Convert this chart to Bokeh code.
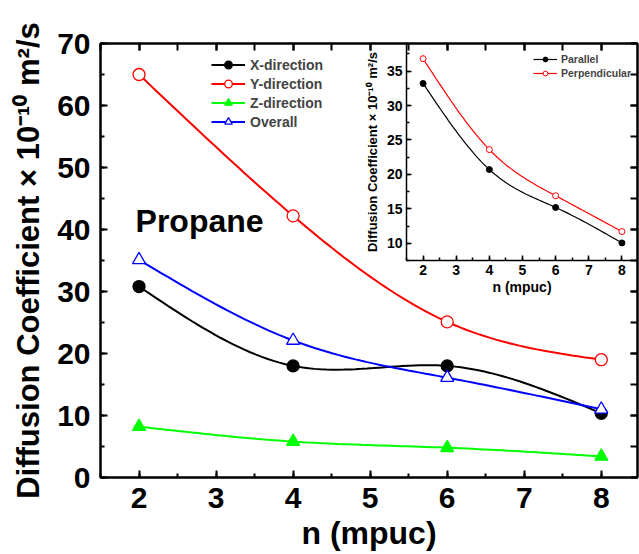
import numpy as np
from bokeh.plotting import figure
from bokeh.models import (Legend, LegendItem, Label, LinearAxis, SingleIntervalTicker,
                          CustomJSTickFormatter)
from bokeh.layouts import column
from bokeh.embed import file_html
from bokeh.resources import INLINE

# ---- main chart data ----
n_mpuc = [2, 4, 6, 8]
x_direction = [30.8, 18.0, 18.0, 10.35]
y_direction = [65.0, 42.2, 25.1, 19.0]
z_direction = [8.2, 5.8, 4.8, 3.4]
overall = [35.1, 22.1, 16.1, 11.0]

# ---- inset data ----
inset_n = [2, 4, 6, 8]
parallel = [33.2, 20.7, 15.2, 10.05]
perpendicular = [36.8, 23.6, 16.9, 11.7]

FONT = "Liberation Sans"


def spline(xs, ys, num=80):
    xs = np.asarray(xs, float)
    ys = np.asarray(ys, float)
    n = len(xs)
    h = np.diff(xs)
    A = np.zeros((n, n))
    b = np.zeros(n)
    A[0, 0] = 1
    A[-1, -1] = 1
    for i in range(1, n - 1):
        A[i, i - 1] = h[i - 1]
        A[i, i] = 2 * (h[i - 1] + h[i])
        A[i, i + 1] = h[i]
        b[i] = 6 * ((ys[i + 1] - ys[i]) / h[i] - (ys[i] - ys[i - 1]) / h[i - 1])
    M = np.linalg.solve(A, b)
    xx = np.linspace(xs[0], xs[-1], num)
    idx = np.clip(np.searchsorted(xs, xx, side="right") - 1, 0, n - 2)
    x0 = xs[idx]
    x1 = xs[idx + 1]
    hh = x1 - x0
    t0 = xx - x0
    t1 = x1 - xx
    yy = (M[idx] * t1 ** 3 / (6 * hh) + M[idx + 1] * t0 ** 3 / (6 * hh)
          + (ys[idx] / hh - M[idx] * hh / 6) * t1
          + (ys[idx + 1] / hh - M[idx + 1] * hh / 6) * t0)
    return xx, yy


def style_axis(ax, fs, lw, tin, tmin, standoff, show_labels=True):
    ax.axis_line_width = lw
    ax.axis_line_color = "black"
    ax.major_tick_line_width = lw
    ax.minor_tick_line_width = lw
    ax.major_tick_in = tin
    ax.major_tick_out = 0
    ax.minor_tick_in = tmin
    ax.minor_tick_out = 0
    ax.major_label_text_font = FONT
    ax.major_label_text_font_style = "bold"
    ax.major_label_text_color = "black"
    ax.axis_label_text_font = FONT
    ax.axis_label_text_font_style = "bold"
    ax.axis_label_text_color = "black"
    if show_labels:
        ax.major_label_text_font_size = fs
        ax.major_label_standoff = standoff
    else:
        ax.formatter = CustomJSTickFormatter(code="return ''")
        ax.major_label_text_font_size = "1px"
        ax.major_label_standoff = 0


# ================= main figure =================
p = figure(width=639, height=554, x_range=(1.5, 8.47), y_range=(0, 70),
           output_backend="svg", toolbar_location=None,
           min_border_left=100, min_border_right=2, min_border_top=43,
           min_border_bottom=77)
p.xgrid.visible = False
p.ygrid.visible = False
p.outline_line_color = "black"
p.outline_line_width = 2

p.xaxis.ticker = SingleIntervalTicker(interval=1, num_minor_ticks=2)
p.yaxis.ticker = SingleIntervalTicker(interval=10, num_minor_ticks=2)
style_axis(p.xaxis[0], "30px", 2, 7, 4, 10)
style_axis(p.yaxis[0], "30px", 2, 7, 4, 10)
p.xaxis.axis_label = "n (mpuc)"
p.xaxis.axis_label_text_font_size = "32px"
p.xaxis.axis_label_standoff = 4
p.yaxis.axis_label = "Diffusion Coefficient × 10⁻¹⁰ m²/s"
p.yaxis.axis_label_text_font_size = "31px"
p.yaxis.axis_label_standoff = 8

top_ax = LinearAxis(ticker=SingleIntervalTicker(interval=1, num_minor_ticks=2))
style_axis(top_ax, "30px", 2, 7, 7, 0, show_labels=False)
p.add_layout(top_ax, "above")
right_ax = LinearAxis(ticker=SingleIntervalTicker(interval=10, num_minor_ticks=2))
style_axis(right_ax, "30px", 2, 7, 7, 0, show_labels=False)
p.add_layout(right_ax, "right")

series = [
    ("X-direction", x_direction, "black", "circle", "black"),
    ("Y-direction", y_direction, "red", "circle", "white"),
    ("Z-direction", z_direction, "#00ff00", "triangle", "#00ff00"),
    ("Overall", overall, "blue", "triangle", "white"),
]
items = []
for name, vals, col, mk, fill in series:
    sx, sy = spline(n_mpuc, vals)
    ln = p.line(sx, sy, line_color=col, line_width=2)
    size = 12 if mk == "circle" else 13
    sc = p.scatter(n_mpuc, vals, marker=mk, size=size, line_color=col,
                   fill_color=fill, line_width=1.3)
    items.append(LegendItem(label=name, renderers=[ln, sc]))

leg = Legend(items=items, location=(111, 346), border_line_alpha=0,
             background_fill_alpha=0, padding=0, margin=0,
             glyph_width=34, glyph_height=19, label_height=19, spacing=0,
             label_standoff=5, label_text_font=FONT,
             label_text_font_style="bold", label_text_font_size="14px")
p.add_layout(leg)

p.add_layout(Label(x=1.955, y=41.4, text="Propane", text_font=FONT,
                   text_font_style="bold", text_font_size="32px",
                   text_color="black", text_baseline="alphabetic"))

# ================= inset figure =================
q = figure(width=333, height=300, x_range=(1.5, 8.47), y_range=(7.5, 39),
           output_backend="svg", toolbar_location=None,
           min_border_left=100, min_border_right=2, min_border_top=43,
           min_border_bottom=40)
q.background_fill_alpha = 0
q.border_fill_alpha = 0
q.outline_line_alpha = 0
q.xgrid.visible = False
q.ygrid.visible = False
q.xaxis.ticker = SingleIntervalTicker(interval=1, num_minor_ticks=2)
q.yaxis.ticker = SingleIntervalTicker(interval=5, num_minor_ticks=2)
style_axis(q.xaxis[0], "14px", 1.5, 5, 3, 4)
style_axis(q.yaxis[0], "14px", 1.5, 5, 3, 4)
q.xaxis.axis_label = "n (mpuc)"
q.xaxis.axis_label_text_font_size = "14px"
q.xaxis.axis_label_standoff = 1
q.yaxis.axis_label = "Diffusion Coefficient × 10⁻¹⁰ m²/s"
q.yaxis.axis_label_text_font_size = "13px"
q.yaxis.axis_label_standoff = 4

inset_items = []
for name, vals, col, fill in [("Parallel", parallel, "black", "black"),
                              ("Perpendicular", perpendicular, "red", "white")]:
    sx, sy = spline(inset_n, vals)
    ln = q.line(sx, sy, line_color=col, line_width=1.2)
    sc = q.scatter(inset_n, vals, marker="circle", size=6, line_color=col,
                   fill_color=fill, line_width=1)
    inset_items.append(LegendItem(label=name, renderers=[ln, sc]))

leg2 = Legend(items=inset_items, location=(127, 181), border_line_alpha=0,
              background_fill_alpha=0, padding=0, margin=0,
              glyph_width=24, glyph_height=12, label_height=12, spacing=2,
              label_standoff=4, label_text_font=FONT,
              label_text_font_style="bold", label_text_font_size="10.5px")
q.add_layout(leg2)

q.margin = (-554, 0, 0, 306)
layout = column(p, q, spacing=0)

open("out.html", "w").write(file_html(layout, INLINE))
